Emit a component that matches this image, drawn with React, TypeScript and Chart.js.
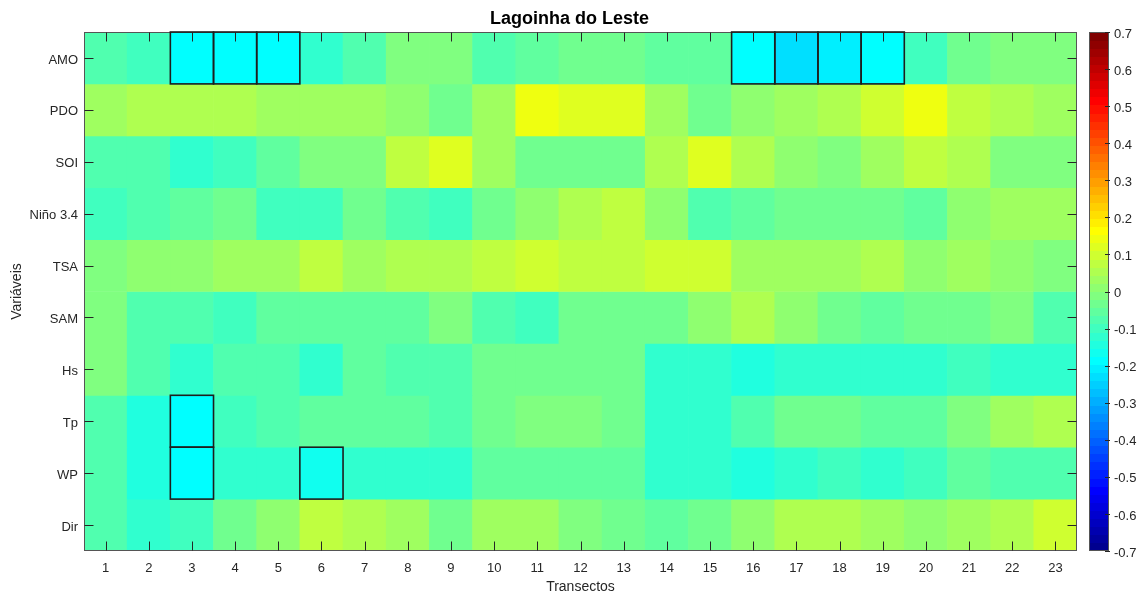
import React, { useEffect, useRef } from "react";
import { Chart, registerables } from "chart.js";

Chart.register(...registerables);

const TITLE = "Lagoinha do Leste";
const X_TITLE = "Transectos";
const Y_TITLE = "Variáveis";

const TRANSECTS = ["1", "2", "3", "4", "5", "6", "7", "8", "9", "10", "11", "12", "13", "14", "15", "16", "17", "18", "19", "20", "21", "22", "23"];
const VARIABLES = ["AMO", "PDO", "SOI", "Niño 3.4", "TSA", "SAM", "Hs", "Tp", "WP", "Dir"];

const AMO = [-0.07, -0.105, -0.19, -0.19, -0.19, -0.13, -0.08, -0.02, -0.015, -0.07, -0.065, -0.03, -0.025, -0.06, -0.065, -0.185, -0.23, -0.208, -0.19, -0.1, -0.03, -0.005, -0.02];
const PDO = [0.04, 0.065, 0.05, 0.065, 0.035, 0.035, 0.04, 0.01, -0.03, 0.04, 0.135, 0.13, 0.13, 0.035, -0.035, 0.0, 0.025, 0.045, 0.09, 0.15, 0.085, 0.065, 0.035];
const SOI = [-0.08, -0.08, -0.12, -0.1, -0.05, -0.005, -0.005, 0.085, 0.13, 0.04, -0.025, -0.03, -0.025, 0.065, 0.13, 0.045, 0.01, -0.02, 0.04, 0.085, 0.05, -0.005, -0.015];
const NINO34 = [-0.09, -0.075, -0.05, -0.04, -0.09, -0.1, -0.04, -0.075, -0.1, -0.025, 0.01, 0.065, 0.085, 0.0, -0.075, -0.06, -0.035, -0.025, -0.035, -0.045, 0.0, 0.04, 0.025];
const TSA = [-0.02, 0.01, 0.015, 0.03, 0.035, 0.075, 0.035, 0.055, 0.065, 0.085, 0.09, 0.08, 0.07, 0.09, 0.105, 0.025, 0.035, 0.04, 0.055, 0.015, 0.035, 0.0, -0.015];
const SAM = [-0.02, -0.075, -0.075, -0.095, -0.06, -0.065, -0.055, -0.05, -0.02, -0.07, -0.09, -0.04, -0.035, -0.035, 0.0, 0.065, 0.005, -0.03, -0.055, -0.035, -0.035, -0.015, -0.075];
const HS = [-0.005, -0.075, -0.13, -0.085, -0.07, -0.13, -0.06, -0.07, -0.085, -0.03, -0.035, -0.04, -0.04, -0.115, -0.13, -0.135, -0.11, -0.115, -0.12, -0.11, -0.09, -0.12, -0.11];
const TP = [-0.085, -0.14, -0.19, -0.1, -0.075, -0.05, -0.06, -0.065, -0.07, -0.03, -0.02, -0.02, -0.04, -0.12, -0.12, -0.07, -0.03, -0.035, -0.055, -0.065, -0.005, 0.04, 0.05];
const WP = [-0.085, -0.135, -0.19, -0.115, -0.11, -0.165, -0.115, -0.125, -0.125, -0.065, -0.065, -0.065, -0.05, -0.115, -0.13, -0.14, -0.12, -0.105, -0.11, -0.105, -0.055, -0.075, -0.075];
const DIR = [-0.085, -0.12, -0.105, -0.025, 0.01, 0.08, 0.055, 0.025, -0.03, 0.025, 0.025, -0.01, -0.04, -0.06, -0.035, 0.0, 0.065, 0.045, 0.03, 0.015, 0.04, 0.065, 0.1];

const ROWS = [AMO, PDO, SOI, NINO34, TSA, SAM, HS, TP, WP, DIR];

// transects (1-based) marked as significant, per variable
const SIG_AMO = [3, 4, 5, 16, 17, 18, 19];
const SIG_TP = [3];
const SIG_WP = [3, 6];
const SIGNIFICANT: Record<string, number[]> = { AMO: SIG_AMO, Tp: SIG_TP, WP: SIG_WP };

const CB_MIN = -0.7;
const CB_MAX = 0.7;
const CB_TICKS = [-0.7, -0.6, -0.5, -0.4, -0.3, -0.2, -0.1, 0, 0.1, 0.2, 0.3, 0.4, 0.5, 0.6, 0.7];
const NCOLORS = 64;

function jet(m: number): number[][] {
  const n = Math.ceil(m / 4);
  const u: number[] = [];
  for (let i = 1; i <= n; i++) u.push(i / n);
  for (let i = 1; i <= n - 1; i++) u.push(1);
  for (let i = n; i >= 1; i--) u.push(i / n);
  const off = Math.ceil(n / 2) - (m % 4 === 1 ? 1 : 0);
  const J = Array.from({ length: m }, () => [0, 0, 0]);
  for (let k = 0; k < u.length; k++) {
    const g = off + k + 1;
    const r = g + n;
    const b = g - n;
    if (r >= 1 && r <= m) J[r - 1][0] = u[k];
    if (g >= 1 && g <= m) J[g - 1][1] = u[k];
    if (b >= 1 && b <= m) J[b - 1][2] = u[k];
  }
  return J;
}
const JET = jet(NCOLORS);

function colorOfIndex(idx: number): string {
  const [r, g, b] = JET[Math.max(0, Math.min(NCOLORS - 1, idx))];
  return `rgb(${Math.round(r * 255)},${Math.round(g * 255)},${Math.round(b * 255)})`;
}
function colorFor(v: number): string {
  const idx = Math.floor(((v - CB_MIN) / (CB_MAX - CB_MIN)) * NCOLORS);
  return colorOfIndex(idx);
}

const FONT = "'Liberation Sans', Arial, Helvetica, sans-serif";
const AXIS_COLOR = "#262626";

const decorPlugin = {
  id: "decor",
  afterDatasetsDraw(chart: any) {
    const { ctx, chartArea: a, scales } = chart;
    const x = scales.x;
    const y = scales.y;
    const cb = scales.cb;
    ctx.save();

    // frame
    ctx.strokeStyle = "#555555";
    ctx.lineWidth = 1;
    const L = Math.round(a.left) + 0.5;
    const R = Math.round(a.right) - 0.5;
    const T = Math.round(a.top) + 0.5;
    const B = Math.round(a.bottom) - 0.5;
    ctx.strokeRect(L, T, R - L, B - T);

    // inward ticks
    const tl = 9;
    ctx.strokeStyle = AXIS_COLOR;
    ctx.beginPath();
    TRANSECTS.forEach((_, i) => {
      const px = Math.round(x.getPixelForValue(i)) + 0.5;
      ctx.moveTo(px, B);
      ctx.lineTo(px, B - tl);
      ctx.moveTo(px, T);
      ctx.lineTo(px, T + tl);
    });
    VARIABLES.forEach((_, i) => {
      const py = Math.round(y.getPixelForValue(i + 1)) + 0.5;
      ctx.moveTo(L, py);
      ctx.lineTo(L + tl, py);
      ctx.moveTo(R, py);
      ctx.lineTo(R - tl, py);
    });
    ctx.stroke();

    // significance boxes
    ctx.strokeStyle = "#1e1e1e";
    ctx.lineWidth = 1.6;
    VARIABLES.forEach((name, r) => {
      const sig = SIGNIFICANT[name] || [];
      const meta = chart.getDatasetMeta(r);
      sig.forEach((t) => {
        const el = meta.data[t - 1];
        const p = el.getProps(["x", "y", "base", "width"], true);
        const top = Math.min(p.y, p.base);
        ctx.strokeRect(p.x - p.width / 2, top, p.width, Math.abs(p.base - p.y));
      });
    });

    // colorbar
    const bl = Math.round(cb.left) + 12;
    const bw = 20;
    const step = (CB_MAX - CB_MIN) / NCOLORS;
    for (let k = 0; k < NCOLORS; k++) {
      const v0 = CB_MIN + k * step;
      const v1 = v0 + step;
      const p0 = cb.getPixelForValue(v0);
      const p1 = cb.getPixelForValue(v1);
      ctx.fillStyle = colorOfIndex(k);
      ctx.fillRect(bl, Math.floor(p1), bw, Math.ceil(p0) - Math.floor(p1));
    }
    const cbTop = Math.round(cb.getPixelForValue(CB_MAX)) + 0.5;
    const cbBot = Math.round(cb.getPixelForValue(CB_MIN)) - 0.5;
    ctx.strokeStyle = "#555555";
    ctx.lineWidth = 1;
    ctx.strokeRect(bl + 0.5, cbTop, bw - 1, cbBot - cbTop);
    ctx.strokeStyle = AXIS_COLOR;
    ctx.beginPath();
    CB_TICKS.forEach((v) => {
      const py = Math.round(cb.getPixelForValue(v)) + 0.5;
      ctx.moveTo(bl + bw - 4, py);
      ctx.lineTo(bl + bw + 1, py);
    });
    ctx.stroke();
    ctx.restore();
  },
};

function noPad(s: any) {
  s.paddingTop = 0;
  s.paddingBottom = 0;
  s.paddingLeft = 0;
  s.paddingRight = 0;
}

export default function App() {
  const ref = useRef<HTMLCanvasElement | null>(null);
  useEffect(() => {
    if (!ref.current) return;
    const datasets = ROWS.map((vals, r) => ({
      label: VARIABLES[r],
      data: vals.map(() => [r + 0.5, r + 1.5]),
      backgroundColor: vals.map((v) => colorFor(v)),
      borderWidth: 0,
      barPercentage: 1,
      categoryPercentage: 1,
    }));
    const chart = new Chart(ref.current, {
      type: "bar",
      data: { labels: TRANSECTS, datasets },
      plugins: [decorPlugin],
      options: {
        animation: false,
        responsive: false,
        devicePixelRatio: 1,
        layout: { padding: 0, autoPadding: false },
        plugins: {
          legend: { display: false },
          tooltip: { enabled: false },
          title: {
            display: true,
            text: TITLE,
            color: "#000",
            font: { family: FONT, size: 18, weight: "bold" },
            padding: { top: 8, bottom: 2.4 },
          },
        },
        scales: {
          x: {
            type: "category",
            stacked: true,
            offset: true,
            grid: { display: false, drawTicks: false },
            border: { display: false },
            ticks: { color: AXIS_COLOR, font: { family: FONT, size: 13 }, padding: 10, autoSkip: false, maxRotation: 0 },
            title: { display: true, text: X_TITLE, color: AXIS_COLOR, font: { family: FONT, size: 14 }, padding: { top: 0, bottom: -1 } },
            afterFit: (s: any) => { s.height = 44; noPad(s); },
          },
          y: {
            type: "linear",
            min: 0.5,
            max: 10.5,
            reverse: true,
            stacked: false,
            grid: { display: false, drawTicks: false },
            border: { display: false },
            afterBuildTicks: (s: any) => { s.ticks = VARIABLES.map((_, i) => ({ value: i + 1 })); },
            ticks: {
              color: AXIS_COLOR,
              font: { family: FONT, size: 13 },
              padding: 6,
              labelOffset: 2,
              callback: (v: any) => VARIABLES[Number(v) - 1],
            },
            title: { display: true, text: Y_TITLE, color: AXIS_COLOR, font: { family: FONT, size: 14 }, padding: { top: 9, bottom: 0 } },
            afterFit: (s: any) => { s.width = 84; noPad(s); },
          },
          cb: {
            type: "linear",
            position: "right",
            min: CB_MIN,
            max: CB_MAX,
            grid: { display: false, drawTicks: false, drawOnChartArea: false },
            border: { display: false },
            afterBuildTicks: (s: any) => { s.ticks = CB_TICKS.map((v) => ({ value: v })); },
            ticks: {
              color: AXIS_COLOR,
              font: { family: FONT, size: 13 },
              padding: 37,
              labelOffset: 2,
              callback: (v: any) => (Math.abs(Number(v)) < 1e-9 ? "0" : Number(v).toFixed(1)),
            },
            afterFit: (s: any) => { s.width = 62; noPad(s); },
          },
        },
      } as any,
    });
    return () => chart.destroy();
  }, []);
  return (
    <div style={{ position: "fixed", left: 0, top: 0, width: 1139, height: 595, background: "#fff" }}>
      <canvas ref={ref} width={1139} height={595} style={{ display: "block" }} />
    </div>
  );
}
